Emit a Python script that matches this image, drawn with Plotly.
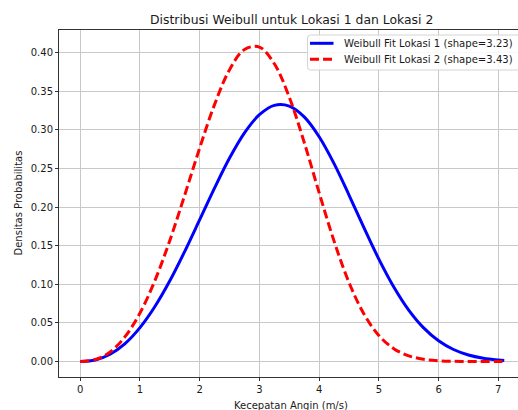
import plotly.graph_objects as go

# Wind speed (m/s) sample positions
wind_speed = [0.0, 0.25, 0.5, 0.75, 1.0, 1.25, 1.5, 1.75, 2.0, 2.25, 2.5, 2.75,
              3.0, 3.25, 3.5, 3.75, 4.0, 4.25, 4.5, 4.75, 5.0, 5.25, 5.5, 5.75,
              6.0, 6.25, 6.5, 6.75, 7.0, 7.1]

# Probability density, Lokasi 1 (shape=3.23)
density_lokasi1 = [0.0, 0.0020, 0.0095, 0.0233, 0.0440, 0.0713, 0.1046, 0.1428,
                   0.1837, 0.2250, 0.2636, 0.2962, 0.3197, 0.3318, 0.3308, 0.3168,
                   0.2911, 0.2563, 0.2157, 0.1734, 0.1327, 0.0966, 0.0667, 0.0436,
                   0.0269, 0.0156, 0.0085, 0.0044, 0.0021, 0.0015]

# Probability density, Lokasi 2 (shape=3.43)
density_lokasi2 = [0.0, 0.0026, 0.0124, 0.0322, 0.0629, 0.1049, 0.1569, 0.2158,
                   0.2767, 0.3331, 0.3780, 0.4042, 0.4073, 0.3857, 0.3424, 0.2838,
                   0.2187, 0.1560, 0.1024, 0.0616, 0.0337, 0.0167, 0.0074, 0.0030,
                   0.0011, 0.0004, 0.0001, 0.0, 0.0, 0.0]

series_names = ["Weibull Fit Lokasi 1 (shape=3.23)", "Weibull Fit Lokasi 2 (shape=3.43)"]
series_colors = ["#0000ff", "#ff0000"]
series_dash = ["solid", "9px,4px"]
x_ticks = [0, 1, 2, 3, 4, 5, 6, 7]
y_ticks = [0.0, 0.05, 0.10, 0.15, 0.20, 0.25, 0.30, 0.35, 0.40]
y_tick_labels = ["0.00", "0.05", "0.10", "0.15", "0.20", "0.25", "0.30", "0.35", "0.40"]

FONT = "DejaVu Sans"
TXT = "#1a1a1a"
W, H = 518, 410
ML, MR, MT, MB = 59, 0, 30, 33
PW, PH = W - ML - MR, H - MT - MB


def px_x(p):
    return (p - ML) / PW


def px_y(p):
    return (H - MB - p) / PH


fig = go.Figure()
for ys, name, col, dash in zip([density_lokasi1, density_lokasi2], series_names, series_colors, series_dash):
    fig.add_trace(go.Scatter(x=wind_speed, y=ys, mode="lines", name=name, showlegend=False,
                             line=dict(color=col, width=3, shape="spline", dash=dash)))

# legend frame with rounded left corners (pixel geometry)
lx0, lx1, ly0, ly1, r = 307.5, 530, 35, 70, 3
frame_path = (f"M {px_x(lx0 + r)},{px_y(ly0)} L {px_x(lx1)},{px_y(ly0)} "
              f"L {px_x(lx1)},{px_y(ly1)} L {px_x(lx0 + r)},{px_y(ly1)} "
              f"Q {px_x(lx0)},{px_y(ly1)} {px_x(lx0)},{px_y(ly1 - r)} "
              f"L {px_x(lx0)},{px_y(ly0 + r)} Q {px_x(lx0)},{px_y(ly0)} {px_x(lx0 + r)},{px_y(ly0)} Z")
shapes = [
    dict(type="path", xref="paper", yref="paper", path=frame_path,
         fillcolor="rgba(255,255,255,0.85)", line=dict(color="#d4d4d4", width=1), layer="above"),
]
annotations = [
    dict(text="Distribusi Weibull untuk Lokasi 1 dan Lokasi 2", x=px_x(291), xref="paper",
         y=px_y(19.5), yref="paper", showarrow=False, font=dict(size=12.4, family=FONT, color=TXT),
         xanchor="center", yanchor="middle"),
    dict(text="Kecepatan Angin (m/s)", x=px_x(291), xref="paper",
         y=px_y(405), yref="paper", showarrow=False, font=dict(size=10, family=FONT, color=TXT),
         xanchor="center", yanchor="middle"),
    dict(text="Densitas Probabilitas", x=px_x(18), xref="paper",
         y=px_y(203.5), yref="paper", showarrow=False, font=dict(size=10, family=FONT, color=TXT),
         xanchor="center", yanchor="middle", textangle=-90),
]
for i, (name, col, dash) in enumerate(zip(series_names, series_colors, series_dash)):
    yy = 43.3 + 16 * i
    shapes.append(dict(type="line", xref="paper", yref="paper", x0=px_x(310), x1=px_x(333.5),
                       y0=px_y(yy), y1=px_y(yy), line=dict(color=col, width=3, dash=dash),
                       layer="above"))
    annotations.append(dict(text=name, x=px_x(341.5), xref="paper", y=px_y(yy), yref="paper",
                            showarrow=False, xanchor="left", yanchor="middle",
                            font=dict(size=10.1, family=FONT, color=TXT)))

fig.update_layout(
    width=W, height=H,
    margin=dict(l=ML, r=MR, t=MT, b=MB, autoexpand=False),
    paper_bgcolor="white", plot_bgcolor="white",
    font=dict(family=FONT, size=10, color=TXT),
    showlegend=False,
    shapes=shapes,
    annotations=annotations,
)

fig.update_xaxes(range=[-0.356, 7.33], tickvals=x_ticks, ticktext=[str(t) for t in x_ticks],
                 showgrid=True, gridcolor="#c8c8c8", gridwidth=1, automargin=False,
                 showline=True, linecolor="#333333", linewidth=1, mirror=True,
                 ticks="outside", ticklen=3, tickcolor="#333333", zeroline=False,
                 tickfont=dict(size=10, family=FONT, color=TXT))
fig.update_yaxes(range=[-0.020, 0.4294], tickvals=y_ticks, ticktext=y_tick_labels,
                 showgrid=True, gridcolor="#c8c8c8", gridwidth=1, automargin=False,
                 showline=True, linecolor="#333333", linewidth=1, mirror=False,
                 ticks="outside", ticklen=3, tickcolor="#333333", zeroline=False,
                 tickfont=dict(size=10, family=FONT, color=TXT))

fig.write_html("out.html", config={"displayModeBar": False},
               post_script="document.body.style.margin='0';document.body.style.overflow='hidden';")
